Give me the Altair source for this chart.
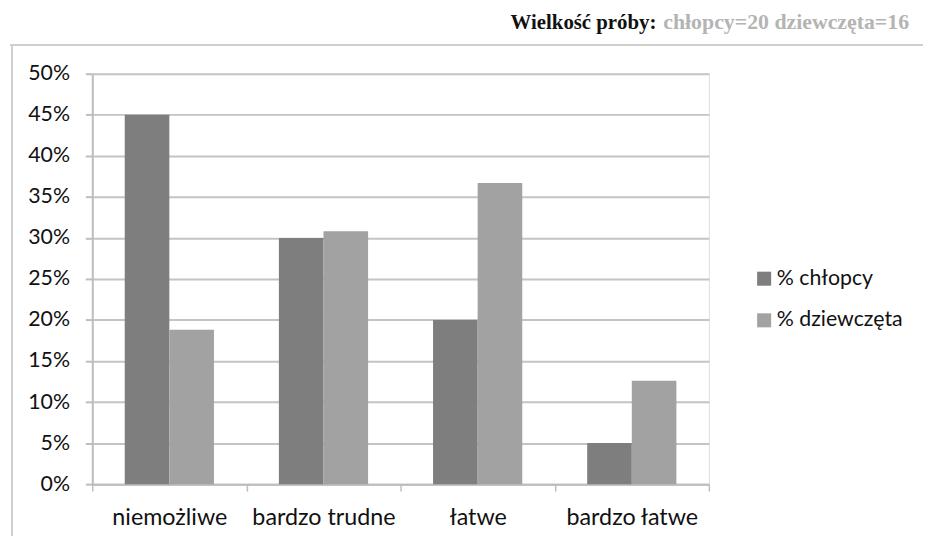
import altair as alt
import pandas as pd

categories = ["niemożliwe", "bardzo trudne", "łatwe", "bardzo łatwe"]
series = ["% chłopcy", "% dziewczęta"]
boys = [45, 30, 20, 5]
girls = [18.8, 30.8, 36.7, 12.6]
y_ticks = [0, 5, 10, 15, 20, 25, 30, 35, 40, 45, 50]
colors = ["#7e7e7e", "#a2a2a2"]

rows = []
for c, b, g in zip(categories, boys, girls):
    rows.append({"kategoria": c, "seria": series[0], "wartosc": b})
    rows.append({"kategoria": c, "seria": series[1], "wartosc": g})
df = pd.DataFrame(rows)

W, H = 622, 414

bars = alt.Chart(df).mark_bar().encode(
    x=alt.X("kategoria:N", sort=categories, title=None,
            scale=alt.Scale(paddingInner=0, paddingOuter=0),
            axis=alt.Axis(labelAngle=0, labelFont="Lato", labelFontSize=23.5,
                          labelColor="#111111", labelPadding=15,
                          domainColor="#bdbdbd", domainWidth=2,
                          tickColor="#bdbdbd", tickWidth=1.5, tickSize=7,
                          tickBand="extent", grid=False)),
    xOffset=alt.XOffset("seria:N", sort=series,
                        scale=alt.Scale(paddingInner=0, paddingOuter=0.728)),
    y=alt.Y("wartosc:Q", title=None,
            scale=alt.Scale(domain=[0, 50], nice=False),
            axis=alt.Axis(values=y_ticks, labelExpr="datum.value + '%'",
                          labelFont="Lato", labelFontSize=21.5, labelColor="#111111",
                          labelPadding=16,
                          domainColor="#bdbdbd", domainWidth=2,
                          tickColor="#bdbdbd", tickWidth=2, tickSize=7,
                          grid=True, gridColor="#c4c4c4", gridWidth=2)),
    color=alt.Color("seria:N", sort=series,
                    scale=alt.Scale(domain=series, range=colors),
                    legend=alt.Legend(title=None, orient="none",
                                      legendX=667, legendY=196,
                                      labelFont="Lato", labelFontSize=21.5,
                                      labelColor="#111111",
                                      symbolType="square", symbolSize=200,
                                      symbolStrokeWidth=0, rowPadding=19,
                                      labelOffset=2)),
)

title_df = pd.DataFrame({"t": ["Wielkość próby:"]})
sub_df = pd.DataFrame({"t": ["chłopcy=20 dziewczęta=16"]})

title_bold = alt.Chart(title_df).mark_text(
    font="Liberation Serif", fontSize=21, fontWeight="bold", color="#111111",
    align="left", baseline="alphabetic"
).encode(text="t:N", x=alt.value(422), y=alt.value(-45))

title_gray = alt.Chart(sub_df).mark_text(
    font="Liberation Serif", fontSize=22, fontWeight="bold", color="#b4b4b4",
    align="left", baseline="alphabetic"
).encode(text="t:N", x=alt.value(576), y=alt.value(-45))

frame_top = alt.Chart(title_df).mark_rule(color="#cfcfcf", strokeWidth=2).encode(
    x=alt.value(-83), x2=alt.value(W + 230), y=alt.value(-29))
frame_left = alt.Chart(title_df).mark_rule(color="#cfcfcf", strokeWidth=2).encode(
    x=alt.value(-81), y=alt.value(-29), y2=alt.value(H + 60))

chart = alt.layer(frame_top, frame_left, bars, title_bold, title_gray).properties(
    width=W, height=H,
    autosize=alt.AutoSizeParams(type="none"),
    padding={"left": 85, "top": 64, "right": 216, "bottom": 50},
).configure_view(stroke=None).configure(background="white")

chart.save("out.html", embed_options={"renderer": "svg", "actions": False})
